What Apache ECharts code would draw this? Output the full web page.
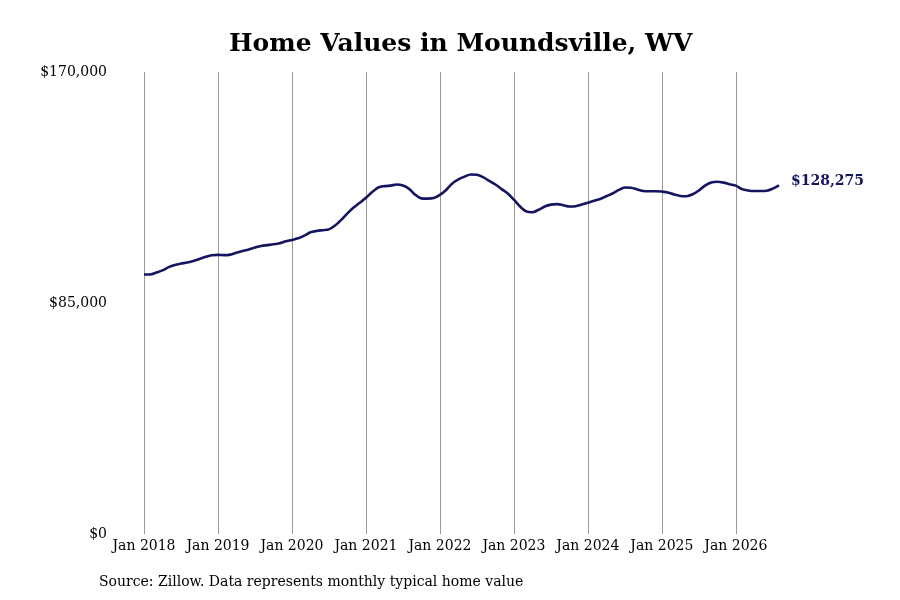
<!DOCTYPE html>
<html>
<head>
<meta charset="utf-8">
<script src="https://cdn.jsdelivr.net/npm/echarts@6/dist/echarts.min.js"></script>
<style>html,body{margin:0;padding:0;background:#fff;}#c{width:900px;height:600px;}</style>
</head>
<body>
<div id="c"></div>
<script>
const years = [2018, 2019, 2020, 2021, 2022, 2023, 2024, 2025, 2026];
const monthNames = ['Jan','Feb','Mar','Apr','May','Jun','Jul','Aug','Sep','Oct','Nov','Dec'];
const values2018 = [95500, 95500, 96200, 97000, 98200, 99000, 99500, 99900, 100500, 101200, 102000, 102600];
const values2019 = [102700, 102600, 102800, 103500, 104100, 104700, 105400, 106000, 106300, 106600, 107000, 107700];
const values2020 = [108200, 108800, 109800, 111000, 111500, 111800, 112100, 113500, 115600, 118000, 120100, 121900];
const values2021 = [123700, 125800, 127500, 128000, 128200, 128600, 128200, 127000, 124800, 123500, 123400, 123600];
const values2022 = [124800, 126600, 129000, 130500, 131500, 132300, 132200, 131300, 129900, 128600, 126900, 125300];
const values2023 = [123000, 120500, 118700, 118400, 119300, 120500, 121200, 121400, 121000, 120500, 120600, 121200];
const values2024 = [121900, 122600, 123300, 124300, 125300, 126600, 127500, 127400, 126800, 126200, 126100, 126100];
const values2025 = [126000, 125700, 124900, 124400, 124300, 125000, 126400, 128200, 129300, 129600, 129300, 128700];
const values2026 = [128200, 126900, 126400, 126200, 126200, 126300, 127100, 128275];
const yTicks = [0, 85000, 170000];
const titleText = 'Home Values in Moundsville, WV';
const sourceText = 'Source: Zillow. Data represents monthly typical home value';

const allYears = [values2018, values2019, values2020, values2021, values2022, values2023, values2024, values2025, values2026];
const categories = [];
const values = [];
allYears.forEach((arr, i) => {
  arr.forEach((v, m) => {
    categories.push(monthNames[m] + ' ' + years[i]);
    values.push(v);
  });
});

const serif = '"DejaVu Serif", "Liberation Serif", serif';
const chart = echarts.init(document.getElementById('c'));
const isJan = (idx) => categories[idx].startsWith('Jan');
chart.setOption({
  animation: false,
  title: {
    text: titleText,
    left: 224,
    top: 27,
    textStyle: { fontFamily: serif, fontWeight: 'bold', fontSize: 25, color: '#000' }
  },
  graphic: [{
    type: 'text',
    left: 99,
    top: 575,
    style: { text: sourceText, font: '14px ' + serif, fill: '#000' }
  }],
  grid: { left: 144, right: 121, top: 72, bottom: 66, containLabel: false },
  xAxis: {
    type: 'category',
    data: categories,
    boundaryGap: false,
    axisLine: { show: false },
    axisTick: { show: false },
    axisLabel: {
      interval: (idx) => isJan(idx),
      fontFamily: serif, fontSize: 14, color: '#000', margin: 5
    },
    splitLine: { show: true, interval: (idx) => isJan(idx), lineStyle: { color: '#999', width: 1 } }
  },
  yAxis: {
    type: 'value',
    min: yTicks[0],
    max: yTicks[yTicks.length - 1],
    interval: yTicks[1] - yTicks[0],
    axisLine: { show: false },
    axisTick: { show: false },
    splitLine: { show: false },
    axisLabel: {
      fontFamily: serif, fontSize: 14, color: '#000', margin: 37,
      formatter: (v) => '$' + v.toLocaleString('en-US')
    }
  },
  series: [{
    type: 'line',
    data: values,
    symbol: 'none',
    smooth: 0.3,
    lineStyle: { color: '#15155f', width: 2.6 },
    itemStyle: { color: '#15155f' },
    endLabel: {
      show: true,
      distance: 12,
      offset: [0, -4],
      formatter: (p) => '$' + p.value.toLocaleString('en-US'),
      fontFamily: serif, fontWeight: 'bold', fontSize: 14, color: '#15155f'
    }
  }]
});
</script>
</body>
</html>
